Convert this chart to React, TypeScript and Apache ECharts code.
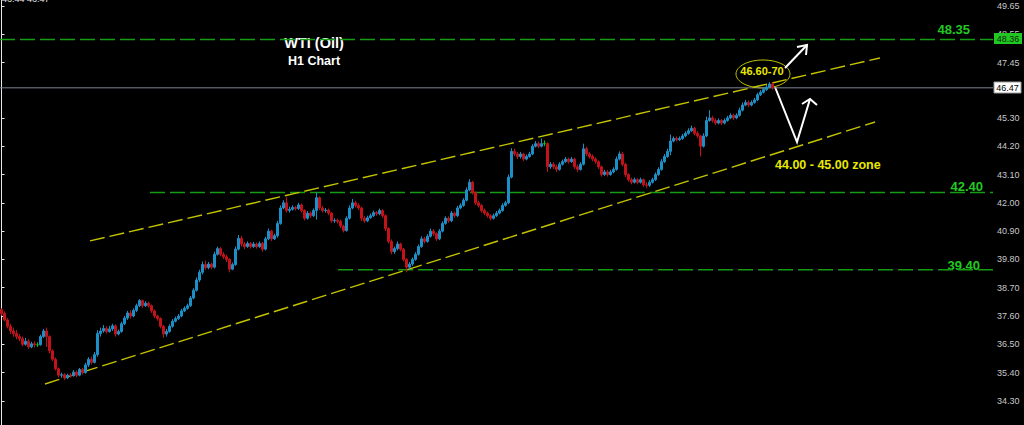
import React, { useEffect, useRef } from "react";
import * as echarts from "echarts";

// Hourly candles: [open, close, low, high]
const candles: number[][] = [
  [37.85,37.70,37.62,37.90],[37.70,37.45,37.40,37.78],[37.45,37.20,37.12,37.52],[37.20,37.02,36.90,37.30],
  [37.02,36.92,36.80,37.15],[36.92,36.80,36.70,37.05],[36.80,36.72,36.62,36.90],[36.72,36.50,36.42,36.80],
  [36.50,36.62,36.45,36.75],[36.62,36.40,36.32,36.70],[36.40,36.52,36.35,36.60],[36.52,36.48,36.38,36.62],
  [36.48,36.48,36.40,36.58],[36.48,36.80,36.45,36.88],[36.80,37.02,36.75,37.10],[37.02,36.80,36.40,37.15],
  [36.80,36.25,36.15,36.85],[36.25,35.92,35.85,36.30],[35.92,35.55,35.48,35.98],[35.55,35.30,35.22,35.60],
  [35.30,35.32,35.20,35.40],[35.32,35.20,35.12,35.38],[35.20,35.30,35.15,35.36],[35.30,35.28,35.20,35.38],
  [35.28,35.42,35.25,35.50],[35.42,35.30,35.22,35.48],[35.30,35.52,35.26,35.58],[35.52,35.40,35.32,35.58],
  [35.40,35.70,35.36,35.78],[35.70,35.92,35.62,36.00],[35.92,35.80,35.72,36.02],[35.80,36.10,35.76,36.20],
  [36.10,36.92,36.02,37.05],[36.92,37.02,36.80,37.15],[37.02,37.12,36.95,37.25],[37.12,37.00,36.92,37.20],
  [37.00,37.10,36.95,37.22],[37.10,37.22,37.02,37.30],[37.22,36.90,36.80,37.28],[36.90,37.00,36.85,37.08],
  [37.00,37.30,36.95,37.38],[37.30,37.52,37.25,37.60],[37.52,37.72,37.45,37.80],[37.72,37.60,37.50,37.82],
  [37.60,37.82,37.55,37.90],[37.82,38.00,37.75,38.08],[38.00,38.20,37.95,38.26],[38.20,38.00,37.92,38.24],
  [38.00,38.10,37.95,38.18],[38.10,38.00,37.92,38.15],[38.00,37.80,37.72,38.05],[37.80,37.60,37.52,37.85],
  [37.60,37.50,37.42,37.65],[37.50,37.20,37.12,37.55],[37.20,36.90,36.75,37.25],[36.90,37.00,36.80,37.10],
  [37.00,37.20,36.95,37.28],[37.20,37.40,37.15,37.48],[37.40,37.50,37.35,37.58],[37.50,37.60,37.45,37.68],
  [37.60,37.80,37.55,37.88],[37.80,37.90,37.75,37.98],[37.90,38.00,37.85,38.08],[38.00,38.30,37.95,38.38],
  [38.30,38.60,38.25,38.68],[38.60,39.00,38.55,39.10],[39.00,39.30,38.92,39.40],[39.30,39.60,39.22,39.72],
  [39.60,39.48,39.40,39.75],[39.48,39.62,39.42,39.70],[39.62,39.50,39.42,39.68],[39.50,40.00,39.45,40.10],
  [40.00,40.22,39.95,40.30],[40.22,40.00,39.92,40.28],[40.00,39.90,39.82,40.08],[39.90,39.80,39.70,39.98],
  [39.80,39.42,39.30,39.85],[39.42,39.60,39.38,39.68],[39.60,40.20,39.55,40.30],[40.20,40.62,40.15,40.75],
  [40.62,40.40,40.30,40.72],[40.40,40.30,40.20,40.48],[40.30,40.42,40.25,40.50],[40.42,40.30,40.22,40.48],
  [40.30,40.40,40.25,40.48],[40.40,40.30,40.22,40.46],[40.30,40.42,40.25,40.50],[40.42,40.20,40.10,40.48],
  [40.20,40.60,40.15,40.68],[40.60,40.90,40.55,41.00],[40.90,40.60,40.52,40.95],[40.60,40.72,40.55,40.80],
  [40.72,41.20,40.65,41.30],[41.20,41.80,41.15,41.90],[41.80,42.00,41.75,42.10],[42.00,41.70,41.62,42.22],
  [41.70,41.75,41.62,41.85],[41.75,41.82,41.70,41.90],[41.82,41.78,41.70,41.88],[41.78,41.92,41.72,42.00],
  [41.92,41.70,41.62,41.98],[41.70,41.40,41.32,41.75],[41.40,41.60,41.35,41.68],[41.60,41.50,41.42,41.66],
  [41.50,41.70,41.45,41.78],[41.70,42.20,41.35,42.40],[42.20,41.80,41.72,42.25],[41.80,41.70,41.62,41.88],
  [41.70,41.72,41.62,41.80],[41.72,41.60,41.52,41.78],[41.60,41.30,41.22,41.65],[41.30,41.32,41.22,41.40],
  [41.32,41.28,41.20,41.38],[41.28,41.10,41.02,41.35],[41.10,40.92,40.85,41.15],[40.92,41.40,40.88,41.48],
  [41.40,41.80,41.35,41.90],[41.80,42.00,41.75,42.15],[42.00,41.90,41.82,42.08],[41.90,41.80,41.72,41.98],
  [41.80,41.40,41.30,41.85],[41.40,41.30,41.22,41.48],[41.30,41.42,41.25,41.50],[41.42,41.50,41.38,41.58],
  [41.50,41.62,41.45,41.70],[41.62,41.58,41.50,41.68],[41.58,41.70,41.52,41.78],[41.70,41.50,41.42,41.75],
  [41.50,41.00,40.90,41.55],[41.00,40.50,40.42,41.05],[40.50,40.10,40.00,40.58],[40.10,40.22,40.02,40.30],
  [40.22,40.40,40.15,40.50],[40.40,40.20,40.12,40.45],[40.20,39.80,39.72,40.25],[39.80,39.50,39.30,39.85],
  [39.50,39.62,39.40,39.70],[39.62,39.80,39.55,39.88],[39.80,40.00,39.75,40.08],[40.00,40.30,39.95,40.38],
  [40.30,40.60,40.25,40.70],[40.60,40.50,40.42,40.68],[40.50,40.70,40.45,40.78],[40.70,40.90,40.65,41.00],
  [40.90,40.80,40.72,40.98],[40.80,40.60,40.52,40.85],[40.60,40.90,40.55,40.98],[40.90,41.20,40.85,41.28],
  [41.20,41.40,41.15,41.48],[41.40,41.30,41.22,41.48],[41.30,41.60,41.25,41.68],[41.60,41.50,41.42,41.66],
  [41.50,41.80,41.45,41.88],[41.80,41.90,41.75,41.98],[41.90,42.10,41.85,42.18],[42.10,42.50,42.05,42.60],
  [42.50,42.80,42.45,42.92],[42.80,42.40,42.32,42.85],[42.40,42.00,41.92,42.45],[42.00,41.90,41.82,42.08],
  [41.90,41.70,41.62,41.95],[41.70,41.60,41.52,41.78],[41.60,41.50,41.42,41.66],[41.50,41.40,41.32,41.56],
  [41.40,41.50,41.35,41.58],[41.50,41.60,41.45,41.68],[41.60,41.70,41.55,41.78],[41.70,41.90,41.65,41.98],
  [41.90,42.00,41.85,42.08],[42.00,43.00,41.95,43.10],[43.00,44.00,42.95,44.12],[44.00,43.90,43.82,44.10],
  [43.90,43.80,43.70,43.98],[43.80,43.90,43.72,43.98],[43.90,43.70,43.62,43.95],[43.70,43.80,43.65,43.88],
  [43.80,43.90,43.75,43.98],[43.90,44.20,43.85,44.28],[44.20,44.30,44.15,44.40],[44.30,44.20,44.12,44.38],
  [44.20,44.30,44.15,44.50],[44.30,44.30,44.20,44.42],[44.30,43.40,43.20,44.35],[43.40,43.50,43.32,43.58],
  [43.50,43.40,43.32,43.58],[43.40,43.30,43.20,43.48],[43.30,43.50,43.25,43.58],[43.50,43.60,43.45,43.68],
  [43.60,43.70,43.55,43.78],[43.70,43.60,43.52,43.76],[43.60,43.70,43.55,43.78],[43.70,43.40,43.32,43.75],
  [43.40,43.30,43.20,43.48],[43.30,43.50,43.25,43.58],[43.50,44.10,43.45,44.30],[44.10,43.90,43.82,44.18],
  [43.90,43.80,43.72,43.98],[43.80,43.70,43.62,43.88],[43.70,43.60,43.52,43.76],[43.60,43.40,43.32,43.65],
  [43.40,43.10,43.02,43.45],[43.10,43.20,43.05,43.28],[43.20,43.10,43.02,43.28],[43.10,43.20,43.05,43.28],
  [43.20,43.30,43.15,43.38],[43.30,43.70,43.25,43.80],[43.70,43.90,43.65,44.00],[43.90,43.50,43.42,43.98],
  [43.50,43.10,43.00,43.55],[43.10,42.90,42.82,43.15],[42.90,42.80,42.72,42.98],[42.80,42.90,42.75,42.98],
  [42.90,42.80,42.72,42.96],[42.80,42.90,42.75,42.98],[42.90,42.70,42.62,42.95],[42.70,42.68,42.58,42.80],
  [42.68,42.80,42.62,42.88],[42.80,42.90,42.75,42.98],[42.90,43.10,42.85,43.18],[43.10,43.30,43.05,43.38],
  [43.30,43.60,43.25,43.70],[43.60,43.80,43.55,43.90],[43.80,44.00,43.75,44.10],[44.00,44.40,43.85,44.65],
  [44.40,44.50,44.35,44.58],[44.50,44.45,44.38,44.58],[44.45,44.50,44.40,44.58],[44.50,44.60,44.45,44.68],
  [44.60,44.70,44.55,44.78],[44.70,44.80,44.65,44.90],[44.80,44.90,44.75,45.00],[44.90,44.70,44.62,44.95],
  [44.70,44.60,44.52,44.78],[44.60,44.20,43.80,44.65],[44.20,44.60,44.15,44.70],[44.60,45.20,44.55,45.35],
  [45.20,45.30,45.15,45.60],[45.30,45.20,45.12,45.38],[45.20,45.10,45.02,45.28],[45.10,45.20,45.05,45.28],
  [45.20,45.10,45.02,45.26],[45.10,45.20,45.05,45.28],[45.20,45.30,45.15,45.38],[45.30,45.40,45.25,45.48],
  [45.40,45.30,45.22,45.46],[45.30,45.40,45.25,45.48],[45.40,45.60,45.35,45.70],[45.60,45.80,45.55,45.90],
  [45.80,45.90,45.75,46.00],[45.90,45.80,45.72,45.98],[45.80,45.90,45.75,45.98],[45.90,46.00,45.85,46.08],
  [46.00,46.20,45.95,46.28],[46.20,46.30,46.15,46.38],[46.30,46.40,46.25,46.48],[46.40,46.50,46.35,46.58],
  [46.50,46.62,46.45,46.70],[46.62,46.47,46.40,46.68],
];

// Price scale tick labels (right axis)
const yTickValues = [34.3, 35.4, 36.5, 37.6, 38.7, 39.8, 40.9, 42.0, 43.1, 44.2, 45.3, 47.45, 48.55, 49.65];

// Horizontal levels: [price, start bar index]
const resistanceTop = 48.35;
const supportMid = 42.4;
const supportLow = 39.4;
const lastPrice = 46.47;
const levelStart = { top: -0.5, mid: 49.5, low: 112.2 };

// Channel trend lines: [barIndex, price] pairs
const upperChannel = [[29.5, 40.52], [292.8, 47.63]];
const lowerChannel = [[14.5, 34.96], [291.2, 45.14]];

const X_MIN = -0.5;
const X_MAX = 330.5;
const Y_MIN = 33.365;
const Y_MAX = 49.883;

export default function App() {
  const ref = useRef<HTMLDivElement>(null);

  useEffect(() => {
    if (!ref.current) return;
    const chart = echarts.init(ref.current, undefined, { renderer: "svg" });

    const green = "#159c15";
    const dashed = [15, 5];
    const levelLine = (name: string, pts: number[][], color: string, width: number, type: any) => ({
      name,
      type: "line",
      data: pts,
      symbol: "none",
      silent: true,
      z: 1,
      lineStyle: { color, width, type },
    });

    chart.setOption({
      animation: false,
      backgroundColor: "#000000",
      grid: { left: 0, right: 31, top: 0, bottom: 0, containLabel: false },
      xAxis: { type: "value", min: X_MIN, max: X_MAX, show: false },
      yAxis: {
        type: "value",
        position: "right",
        min: Y_MIN,
        max: Y_MAX,
        scale: true,
        splitLine: { show: false },
        axisLine: { show: true, lineStyle: { color: "#e8e8e8", width: 1 } },
        axisTick: { show: true, length: 3, inside: false, lineStyle: { color: "#e8e8e8" }, customValues: yTickValues },
        axisLabel: {
          color: "#c8c8c8",
          fontSize: 9,
          fontFamily: "Liberation Sans",
          margin: 4,
          customValues: yTickValues,
          formatter: (v: number) => v.toFixed(2),
        },
      },
      series: [
        levelLine("r48", [[levelStart.top, resistanceTop], [X_MAX, resistanceTop]], green, 1.6, dashed),
        levelLine("s42", [[levelStart.mid, supportMid], [X_MAX, supportMid]], green, 1.6, dashed),
        levelLine("s39", [[levelStart.low, supportLow], [X_MAX, supportLow]], green, 1.6, dashed),
        levelLine("last", [[X_MIN, lastPrice], [X_MAX, lastPrice]], "#7c8494", 1, "solid"),
        levelLine("upper", upperChannel, "#c4c400", 1.4, dashed),
        levelLine("lower", lowerChannel, "#c4c400", 1.4, dashed),
        {
          name: "WTI",
          type: "candlestick",
          z: 3,
          barWidth: 2,
          data: candles.map((c, i) => [i, c[0], c[1], c[2], c[3]]),
          encode: { x: 0, y: [1, 2, 3, 4] },
          itemStyle: {
            color: "#1c8fc6",
            color0: "#c2121a",
            borderColor: "#1c8fc6",
            borderColor0: "#c2121a",
            borderColorDoji: "#10c010",
            borderWidth: 1,
          },
        },
      ],
      graphic: [
        { type: "text", x: 2, y: 3, style: { text: "46.44 46.47", fill: "#e0e0e0", font: "9px 'Liberation Sans'", textVerticalAlign: "bottom" } },
        { type: "text", x: 314, y: 43, style: { text: "WTI (Oil)", fill: "#ffffff", font: "bold 14.5px 'Liberation Sans'", textAlign: "center", textVerticalAlign: "middle" } },
        { type: "text", x: 314, y: 61, style: { text: "H1 Chart", fill: "#ffffff", font: "bold 12.5px 'Liberation Sans'", textAlign: "center", textVerticalAlign: "middle" } },
        { type: "text", x: 970, y: 29, style: { text: "48.35", fill: "#22c822", font: "bold 13px 'Liberation Sans'", textAlign: "right", textVerticalAlign: "middle" } },
        { type: "text", x: 983, y: 186, style: { text: "42.40", fill: "#22c822", font: "bold 13px 'Liberation Sans'", textAlign: "right", textVerticalAlign: "middle" } },
        { type: "text", x: 980, y: 265, style: { text: "39.40", fill: "#22c822", font: "bold 13px 'Liberation Sans'", textAlign: "right", textVerticalAlign: "middle" } },
        { type: "ellipse", shape: { cx: 763, cy: 74, rx: 27, ry: 14 }, style: { fill: "none", stroke: "#c4c400", lineWidth: 1 } },
        { type: "text", x: 762, y: 71, style: { text: "46.60-70", fill: "#e8e800", font: "bold 11px 'Liberation Sans'", textAlign: "center", textVerticalAlign: "middle" } },
        { type: "polyline", shape: { points: [[785, 68], [807, 45]] }, style: { stroke: "#ffffff", lineWidth: 2, fill: "none" } },
        { type: "polyline", shape: { points: [[797, 47], [807, 45], [806, 55]] }, style: { stroke: "#ffffff", lineWidth: 2, fill: "none" } },
        { type: "polyline", shape: { points: [[775, 87], [797, 142], [810, 99]] }, style: { stroke: "#ffffff", lineWidth: 2, fill: "none" } },
        { type: "polyline", shape: { points: [[802, 104], [810, 99], [817, 105]] }, style: { stroke: "#ffffff", lineWidth: 2, fill: "none" } },
        { type: "text", x: 775, y: 165, style: { text: "44.00 - 45.00 zone", fill: "#e8e800", font: "bold 12.5px 'Liberation Sans'", textVerticalAlign: "middle" } },
        { type: "rect", z: 50, shape: { x: 994, y: 33, width: 28, height: 11 }, style: { fill: "#22c822" } },
        { type: "text", z: 51, x: 1008, y: 39, style: { text: "48.36", fill: "#0b2a0b", font: "9px 'Liberation Sans'", textAlign: "center", textVerticalAlign: "middle" } },
        { type: "rect", z: 50, shape: { x: 994, y: 82, width: 27, height: 11 }, style: { fill: "#ffffff", stroke: "#9a9a9a", lineWidth: 1 } },
        { type: "text", z: 51, x: 1007.5, y: 88, style: { text: "46.47", fill: "#000000", font: "9px 'Liberation Sans'", textAlign: "center", textVerticalAlign: "middle" } },
      ],
    });

    return () => chart.dispose();
  }, []);

  return (
    <div
      ref={ref}
      style={{ position: "fixed", left: 0, top: 0, width: 1024, height: 425, background: "#000" }}
    />
  );
}
